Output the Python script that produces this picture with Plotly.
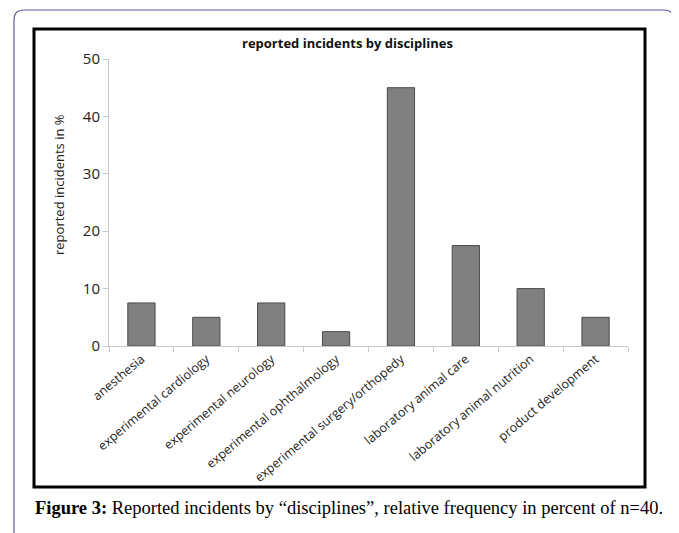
import plotly.graph_objects as go

categories = ["anesthesia", "experimental cardiology", "experimental neurology",
              "experimental ophthalmology", "experimental surgery/orthopedy",
              "laboratory animal care", "laboratory animal nutrition", "product development"]
values = [7.5, 5, 7.5, 2.5, 45, 17.5, 10, 5]
y_ticks = [0, 10, 20, 30, 40, 50]

OFF = 8  # default body margin of the html page
W, H = 679 - OFF, 533 - OFF
L, R, T, B = 109 - OFF, 51, 59 - OFF, 187
PW, PH = W - L - R, H - T - B

def px(x):
    return (x - OFF - L) / PW

def py(y):
    return (H - B - (y - OFF)) / PH

fig = go.Figure(go.Bar(
    x=categories, y=values,
    marker=dict(color="#808080", line=dict(color="#4a4a4a", width=1)),
    width=0.42,
))

fig.update_layout(
    width=W, height=H,
    margin=dict(l=L, r=R, t=T, b=B),
    paper_bgcolor="white", plot_bgcolor="white",
    showlegend=False,
    font=dict(family="Open Sans, sans-serif", color="#222"),
    xaxis=dict(
        showline=True, linecolor="#c8c8c8", linewidth=1,
        ticks="outside", tickson="boundaries", ticklen=5, tickcolor="#c8c8c8",
        tickangle=-40, tickfont=dict(size=12.5, color="#222"),
        showgrid=False, zeroline=False,
    ),
    yaxis=dict(
        range=[0, 50], tickvals=y_ticks,
        showline=True, linecolor="#c8c8c8", linewidth=1,
        ticks="outside", ticklen=5, tickcolor="#c8c8c8",
        tickfont=dict(size=15, color="#222"),
        showgrid=False, zeroline=False,
    ),
    shapes=[
        dict(type="path", xref="paper", yref="paper",
             path=f"M {px(14)},{py(560)} L {px(14)},{py(20)} Q {px(14)},{py(10)} {px(24)},{py(10)} "
                  f"L {px(664)},{py(10)} Q {px(674)},{py(10)} {px(674)},{py(20)} L {px(674)},{py(560)}",
             line=dict(color="#5b5b9e", width=1.2)),
        dict(type="rect", xref="paper", yref="paper",
             x0=px(34), x1=px(645), y0=py(487), y1=py(29),
             line=dict(color="black", width=3)),
    ],
    annotations=[
        dict(text="<b>reported incidents by disciplines</b>", xref="paper", yref="paper",
             x=px(347), y=py(43), showarrow=False, font=dict(size=13, color="#111"),
             xanchor="center", yanchor="middle"),
        dict(text="reported incidents in %", xref="paper", yref="paper",
             x=px(59), y=py(185), showarrow=False, textangle=-90,
             font=dict(size=13, color="#222"), xanchor="center", yanchor="middle"),
        dict(text="<b>Figure 3:</b> Reported incidents by \u201cdisciplines\u201d, relative frequency in percent of n=40.",
             xref="paper", yref="paper", x=px(33), y=py(508), showarrow=False,
             font=dict(family="Liberation Serif, Times New Roman, serif", size=18.5, color="black"),
             xanchor="left", yanchor="middle"),
    ],
)

fig.write_html("out.html")
